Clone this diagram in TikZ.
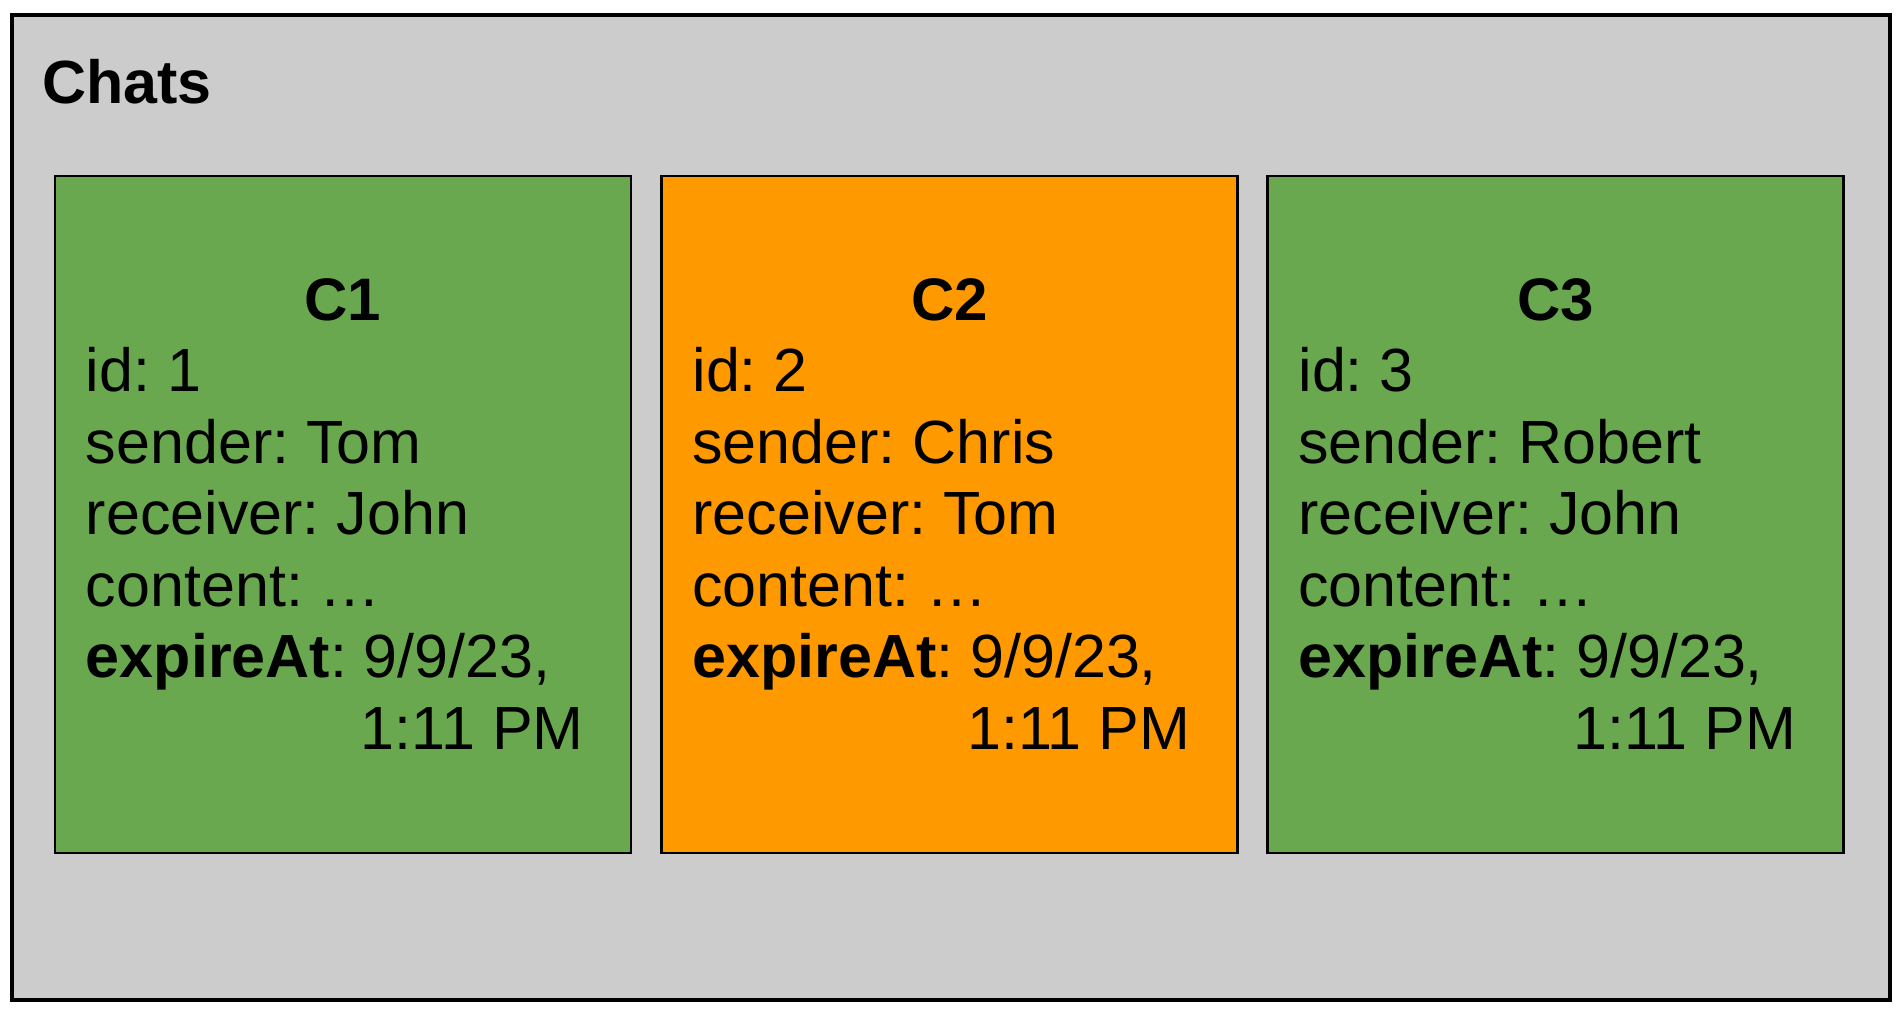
\documentclass[tikz,border=0pt]{standalone}
\usepackage{fontspec}
\setmainfont{Liberation Sans}
\frenchspacing
\definecolor{chatgray}{HTML}{CCCCCC}
\definecolor{chatgreen}{HTML}{6AA84F}
\definecolor{chatorange}{HTML}{FF9900}
\tikzset{
  chatbox/.style={draw, line width=2.5pt, minimum width=576pt, minimum height=677pt, inner sep=0pt},
  chattitle/.style={font=\fontsize{60}{72}\selectfont\bfseries, anchor=base, inner sep=0pt},
  chatfields/.style={font=\fontsize{61}{71.5}\selectfont, anchor=base west, inner sep=0pt},
}
\newcommand{\chatlines}[4]{\begin{tabular}[t]{@{}l@{}}
  id: #1\\sender: #2\\receiver: #3\\content: #4\\
  \textbf{expireAt}: 9/9/23,\\
  \phantom{\textbf{expireAt}: }\hspace*{-3pt}1:11 PM
\end{tabular}}
\begin{document}
\begin{tikzpicture}[x=1pt, y=-1pt]
\useasboundingbox (0, 0) rectangle (1900, 1011);
\fill [white] (0, 0) rectangle (1900, 1011);
\draw [fill=chatgray, line width=3.5pt] (12, 15) rectangle (1890, 1000);
\node at (42, 104) [anchor=base west, inner sep=0pt, font=\fontsize{61}{72}\selectfont\bfseries] (chats) {Chats};
% chat documents
\node at (343, 514.5) [chatbox, fill=chatgreen] (c1) {};
\node at (949.5, 514.5) [chatbox, fill=chatorange] (c2) {};
\node at (1555.5, 514.5) [chatbox, fill=chatgreen] (c3) {};
\node at ([yshift=-146pt]c1.north) [chattitle] (c1title) {C1};
\node at ([yshift=-146pt]c2.north) [chattitle] (c2title) {C2};
\node at ([yshift=-146pt]c3.north) [chattitle] (c3title) {C3};
\node at ([xshift=32pt, yshift=-217pt]c1.north west) [chatfields] (c1fields) {\chatlines{1}{Tom}{John}{…}};
\node at ([xshift=32pt, yshift=-217pt]c2.north west) [chatfields] (c2fields) {\chatlines{2}{Chris}{Tom}{…}};
\node at ([xshift=32pt, yshift=-217pt]c3.north west) [chatfields] (c3fields) {\chatlines{3}{Robert}{John}{…}};
\end{tikzpicture}
\end{document}
